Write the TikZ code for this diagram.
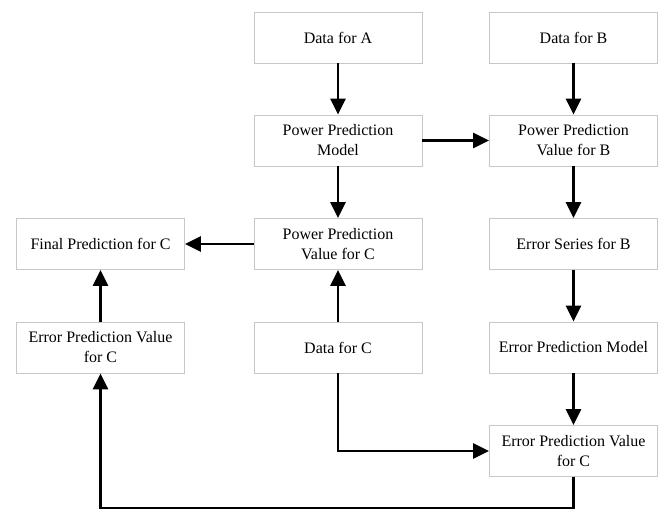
\documentclass[tikz,border=0pt]{standalone}
\usepackage{fontspec}
\setmainfont{Liberation Serif}
\usetikzlibrary{arrows.meta}
\begin{document}
\begin{tikzpicture}[x=1pt,y=-1pt,
  box/.style={draw=black!22,line width=0.8pt,minimum width=168pt,minimum height=51pt,
    align=center,inner sep=2pt,font=\fontsize{16}{20}\selectfont},
  arr/.style={line width=2.4pt,-{Triangle[length=16pt,width=15pt]}}]
\useasboundingbox (0,0) rectangle (665,512);
\node[box] (dA) at (338,37.5) {Data for A};
\node[box] (dB) at (573.5,37.5) {Data for B};
\node[box] (ppm) at (338,140.5) {Power Prediction\\Model};
\node[box] (ppvb) at (573.5,140.5) {Power Prediction\\Value for B};
\node[box] (fin) at (100.5,244) {Final Prediction for C};
\node[box] (ppvc) at (338,244) {Power Prediction\\Value for C};
\node[box] (esb) at (573.5,244) {Error Series for B};
\node[box] (epvl) at (100.5,347.5) {Error Prediction Value\\for C};
\node[box] (dC) at (338,347.5) {Data for C};
\node[box] (epm) at (573.5,347.5) {Error Prediction Model};
\node[box] (epvr) at (573.5,451) {Error Prediction Value\\for C};
\coordinate (bl) at (100.5,508);
\coordinate (br) at (573.5,508);
\coordinate (cc) at (338,451);
\draw[arr] (dA) -- (ppm);
\draw[arr] (dB) -- (ppvb);
\draw[arr] (ppm) -- (ppvb);
\draw[arr] (ppm) -- (ppvc);
\draw[arr] (ppvb) -- (esb);
\draw[arr] (ppvc) -- (fin);
\draw[arr] (esb) -- (epm);
\draw[arr] (dC) -- (ppvc);
\draw[arr] (epvl) -- (fin);
\draw[arr] (epm) -- (epvr);
\draw[arr] (dC.south) -- (cc) -- (epvr.west);
\draw[arr] (epvr.south) -- (br) -- (bl) -- (epvl.south);
\end{tikzpicture}
\end{document}
